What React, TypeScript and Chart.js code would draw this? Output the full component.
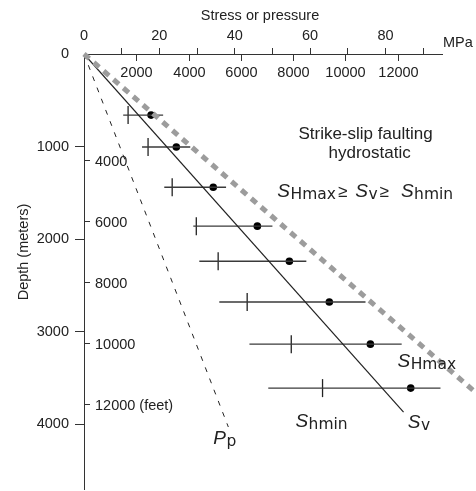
import React, { useEffect, useRef } from "react";
import { Chart, registerables } from "chart.js";

Chart.register(...registerables);

// ---- data (x: stress in MPa, y: depth in meters) ----
const rowDepths = [660, 1005, 1440, 1860, 2240, 2680, 3135, 3610];
const rangeLow = [10.4, 15.4, 21.3, 29.0, 30.6, 35.9, 43.9, 48.9];
const rangeHigh = [21.0, 28.2, 37.7, 50.0, 59.0, 74.7, 84.3, 94.6];
const shminValues = [11.7, 17.0, 23.4, 29.8, 35.6, 43.3, 55.0, 63.3];
const shmaxValues = [17.8, 24.5, 34.3, 46.0, 54.5, 65.1, 76.0, 86.7];

const svLine = [
  { x: 0, y: 0 },
  { x: 84.8, y: 3870 },
];
const ppLine = [
  { x: 0, y: 0 },
  { x: 38.3, y: 4030 },
];
const boundLine = [
  { x: 0, y: 0 },
  { x: 108, y: 3800 },
];

const mpaTicks = [0, 10, 20, 30, 40, 50, 60, 70, 80, 90];
const psiTicks = [2000, 4000, 6000, 8000, 10000, 12000];
const meterTicks = [0, 1000, 2000, 3000, 4000];
const feetTicks = [4000, 6000, 8000, 10000, 12000];

const AXIS = "#333";
const TEXT = "#222";
const SANS = "'Liberation Sans', Arial, sans-serif";
const SUB = "'DejaVu Sans', sans-serif";

function drawSym(
  ctx: CanvasRenderingContext2D,
  x: number,
  base: number,
  main: string,
  sub: string,
  mainSize: number,
  subSize: number
) {
  ctx.font = `italic ${mainSize}px ${SANS}`;
  ctx.fillText(main, x, base);
  const w = ctx.measureText(main).width;
  ctx.font = `${subSize}px ${SUB}`;
  ctx.fillText(sub, x + w + 0.5, base + 1.5);
  return w + 0.5 + ctx.measureText(sub).width;
}

const zeroPad = (s: any) => {
  s.paddingTop = 0;
  s.paddingBottom = 0;
  s.paddingLeft = 0;
  s.paddingRight = 0;
};

const overlay = {
  id: "overlay",
  afterDraw(chart: any) {
    const { ctx, chartArea, scales } = chart;
    const xs = scales.x;
    const ys = scales.y;
    const xp = scales.xPsi;
    const yf = scales.yFeet;
    ctx.save();
    ctx.strokeStyle = AXIS;
    ctx.fillStyle = TEXT;
    ctx.lineWidth = 1;

    // psi ticks (inside, below top axis)
    ctx.font = `14.5px ${SANS}`;
    ctx.textAlign = "center";
    ctx.textBaseline = "middle";
    psiTicks.forEach((v) => {
      const px = Math.round(xp.getPixelForValue(v)) + 0.5;
      ctx.beginPath();
      ctx.moveTo(px, chartArea.top);
      ctx.lineTo(px, chartArea.top + 7);
      ctx.stroke();
      ctx.fillText(String(v), px, chartArea.top + 19);
    });

    // feet ticks (inside, right of left axis)
    ctx.textAlign = "left";
    feetTicks.forEach((v, i) => {
      const py = Math.round(yf.getPixelForValue(v)) + 0.5;
      ctx.beginPath();
      ctx.moveTo(chartArea.left, py);
      ctx.lineTo(chartArea.left + 6, py);
      ctx.stroke();
      const label = i === feetTicks.length - 1 ? `${v} (feet)` : String(v);
      ctx.fillText(label, chartArea.left + 11, py + 1);
    });

    // axis titles
    ctx.textAlign = "center";
    ctx.fillText("Stress or pressure", (chartArea.left + chartArea.right) / 2 - 3, 16);
    ctx.textAlign = "left";
    ctx.fillText("MPa", chartArea.right + 1, 43);
    ctx.save();
    ctx.translate(24, 252);
    ctx.rotate(-Math.PI / 2);
    ctx.textAlign = "center";
    ctx.fillText("Depth (meters)", 0, 0);
    ctx.restore();

    // annotations
    ctx.font = `17px ${SANS}`;
    ctx.textAlign = "center";
    ctx.fillText("Strike-slip faulting", xs.getPixelForValue(74.7), ys.getPixelForValue(865));
    ctx.fillText("hydrostatic", xs.getPixelForValue(75.8), ys.getPixelForValue(1070));

    ctx.textAlign = "left";
    ctx.textBaseline = "alphabetic";
    // formula
    let fx = xs.getPixelForValue(51.3);
    const fb = ys.getPixelForValue(1546);
    fx += drawSym(ctx, fx, fb, "S", "Hmax", 19, 15.5) + 2;
    ctx.font = `17px ${SANS}`;
    ctx.fillText("\u2265", fx, fb);
    fx += ctx.measureText("\u2265").width + 8;
    fx += drawSym(ctx, fx, fb, "S", "v", 19, 15.5) + 2;
    ctx.font = `17px ${SANS}`;
    ctx.fillText("\u2265", fx, fb);
    fx += ctx.measureText("\u2265").width + 12;
    drawSym(ctx, fx, fb, "S", "hmin", 19, 15.5);

    // curve labels
    drawSym(ctx, xs.getPixelForValue(83.2), ys.getPixelForValue(3384), "S", "Hmax", 19, 15.5);
    drawSym(ctx, xs.getPixelForValue(56.1), ys.getPixelForValue(4032), "S", "hmin", 19, 15.5);
    drawSym(ctx, xs.getPixelForValue(85.9), ys.getPixelForValue(4043), "S", "v", 19, 15.5);
    drawSym(ctx, xs.getPixelForValue(34.3), ys.getPixelForValue(4216), "P", "p", 19, 15.5);

    ctx.restore();
  },
};

export default function App() {
  const ref = useRef<HTMLCanvasElement>(null);

  useEffect(() => {
    if (!ref.current) return;

    const rangeSets = rowDepths.map((d, i) => ({
      type: "scatter" as const,
      data: [
        { x: rangeLow[i], y: d },
        { x: rangeHigh[i], y: d },
      ],
      showLine: true,
      borderColor: "#3a3a3a",
      borderWidth: 1.4,
      pointRadius: 0,
      xAxisID: "x",
      yAxisID: "y",
    }));

    const chart = new Chart(ref.current, {
      type: "scatter",
      data: {
        datasets: [
          {
            data: boundLine,
            showLine: true,
            borderColor: "#9c9c9c",
            borderWidth: 5,
            borderDash: [7, 6],
            pointRadius: 0,
            clip: false as any,
            xAxisID: "x",
            yAxisID: "y",
          },
          {
            data: ppLine,
            showLine: true,
            borderColor: "#222",
            borderWidth: 1,
            borderDash: [5, 7],
            pointRadius: 0,
            xAxisID: "x",
            yAxisID: "y",
          },
          {
            data: svLine,
            showLine: true,
            borderColor: "#222",
            borderWidth: 1.2,
            pointRadius: 0,
            xAxisID: "x",
            yAxisID: "y",
          },
          ...rangeSets,
          {
            data: rowDepths.map((d, i) => ({ x: shminValues[i], y: d })),
            showLine: false,
            pointStyle: "line",
            rotation: 90,
            pointRadius: 9,
            borderColor: "#222",
            borderWidth: 1.3,
            xAxisID: "x",
            yAxisID: "y",
          },
          {
            data: rowDepths.map((d, i) => ({ x: shmaxValues[i], y: d })),
            showLine: false,
            pointStyle: "circle",
            pointRadius: 3.8,
            backgroundColor: "#000",
            borderColor: "#000",
            borderWidth: 0,
            xAxisID: "x",
            yAxisID: "y",
          },
        ] as any,
      },
      options: {
        responsive: false,
        animation: false,
        events: [],
        layout: { autoPadding: false, padding: { left: 0, top: 0, right: 34, bottom: 2 } },
        plugins: { legend: { display: false }, tooltip: { enabled: false } },
        scales: {
          x: {
            type: "linear",
            position: "top",
            min: 0,
            max: 95,
            afterFit: (s: any) => {
              s.height = 54;
              zeroPad(s);
            },
            afterBuildTicks: (s: any) => {
              s.ticks = mpaTicks.map((v) => ({ value: v }));
            },
            ticks: {
              includeBounds: false,
              padding: 3,
              maxRotation: 0,
              autoSkip: false,
              color: TEXT,
              font: { family: SANS, size: 14.5 },
              callback: (v: any) => (Number(v) % 20 === 0 ? String(v) : ""),
            },
            grid: {
              drawOnChartArea: false,
              tickLength: 6,
              color: AXIS,
              tickColor: (c: any) => (c.tick && c.tick.value === 0 ? "rgba(0,0,0,0)" : AXIS),
            },
            border: { color: AXIS, width: 1 },
          },
          y: {
            type: "linear",
            position: "left",
            reverse: true,
            min: 0,
            max: 4700,
            afterFit: (s: any) => {
              s.width = 84;
              zeroPad(s);
            },
            afterBuildTicks: (s: any) => {
              s.ticks = meterTicks.map((v) => ({ value: v }));
            },
            ticks: {
              includeBounds: false,
              padding: 6,
              color: TEXT,
              font: { family: SANS, size: 14.5 },
              callback: (v: any) => String(v),
            },
            grid: {
              drawOnChartArea: false,
              tickLength: 9,
              color: AXIS,
              tickColor: (c: any) => (c.tick && c.tick.value === 0 ? "rgba(0,0,0,0)" : AXIS),
            },
            border: { color: AXIS, width: 1 },
          },
          xPsi: {
            type: "linear",
            position: "top",
            display: false,
            min: 0,
            max: 13700,
            afterFit: zeroPad,
          },
          yFeet: {
            type: "linear",
            position: "left",
            display: false,
            reverse: true,
            min: 540,
            max: 14800,
            afterFit: zeroPad,
          },
        } as any,
      },
      plugins: [overlay],
    });

    return () => chart.destroy();
  }, []);

  return (
    <div style={{ position: "absolute", left: 0, top: 0, width: 476, height: 491, background: "#fff" }}>
      <canvas ref={ref} width={476} height={491} style={{ display: "block" }} />
    </div>
  );
}
